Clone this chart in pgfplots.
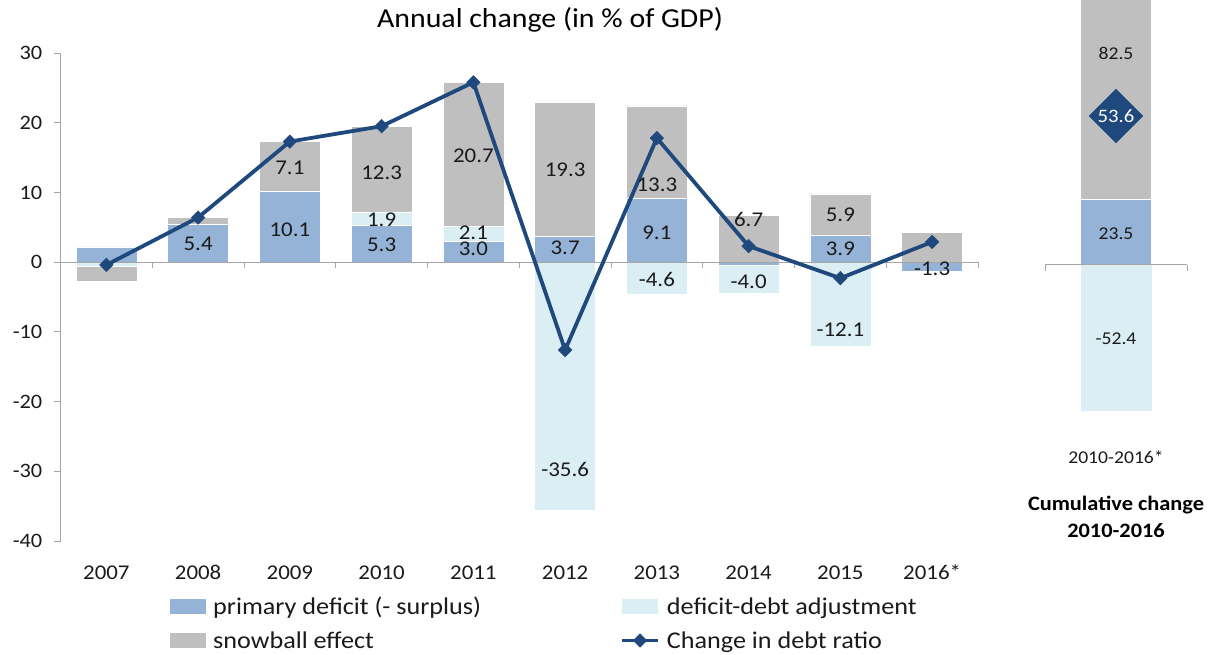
\documentclass[border=0pt]{standalone}
\usepackage{fontspec}
\setmainfont{Carlito}[FakeStretch=1.09]
\usepackage{pgfplots}
\usepackage{pgfplotstable}
\pgfplotsset{compat=1.18}
\definecolor{prim}{HTML}{95B3D7}
\definecolor{dda}{HTML}{DBEEF4}
\definecolor{snow}{HTML}{BFBFBF}
\definecolor{debt}{HTML}{1F497D}
\definecolor{axgray}{HTML}{A6A6A6}
\definecolor{txt}{HTML}{1A1A1A}

\pgfplotstableread{
x prim dda snow debt
0 2.2 -0.6 -2.1 -0.4
1 5.4 0.0 1.0 6.4
2 10.1 0.1 7.1 17.3
3 5.3 1.9 12.3 19.5
4 3.0 2.1 20.7 25.8
5 3.7 -35.6 19.3 -12.6
6 9.1 -4.6 13.3 17.8
7 -0.4 -4.0 6.7 2.3
8 3.9 -12.1 5.9 -2.3
9 -1.3 0.0 4.3 2.9
}\annual

\pgfplotstableread{
x y lab
1 2.6 5.4
2 4.6 10.1
2 13.5 7.1
3 2.5 5.3
3 6.1 1.9
3 12.8 12.3
4 1.9 3.0
4 4.2 2.1
4 15.2 20.7
5 2.0 3.7
5 13.2 19.3
5 -29.7 -35.6
6 4.2 9.1
6 11.1 13.3
6 -2.5 -4.6
7 6.1 6.7
7 -2.8 -4.0
8 1.9 3.9
8 6.8 5.9
8 -9.7 -12.1
9 -0.9 -1.3
}\annlabels

\pgfplotstableread{
x prim dda snow debt
0 23.5 -52.4 82.5 53.6
}\cumul

\pgfplotstableread{
x y lab
0 76.1 82.5
0 11.4 23.5
0 -26.7 -52.4
}\cumlabels

\pgfplotsset{
  leftgeom/.style={scale only axis, width=917.5pt, height=488pt, at={(60.5pt,113pt)}, anchor=south west, xmin=-0.5, xmax=9.5, ymin=-40, ymax=30},
  rightgeom/.style={scale only axis, width=142pt, height=431.8pt, at={(1045pt,222.2pt)}, anchor=south west, xmin=-1, xmax=1, ymin=-60, ymax=95.3},
  barleg/.style={legend image code/.code={\fill[##1, draw=none] (0pt,-7.5pt) rectangle (36pt,7.5pt);}},
  lineleg/.style={legend image code/.code={\draw[mark repeat=2,mark phase=2,##1] plot coordinates {(0pt,0pt) (18pt,0pt) (36pt,0pt)};}},
  lab/.style={only marks, mark=none, nodes near coords, point meta=explicit symbolic, nodes near coords align=center,
     every node near coord/.append style={font=#1, text=txt, anchor=center, inner sep=0pt}},
}

\begin{document}
\begin{tikzpicture}
\path[use as bounding box] (0,0) rectangle (1223pt,654pt);

% positive stacks (left)
\begin{axis}[leftgeom, hide axis, ybar stacked, bar width=61pt]
\addplot[fill=prim, draw=white, line width=0.6pt] table[x=x, y expr={max(\thisrow{prim},0)}]{\annual};
\addplot[fill=dda, draw=white, line width=0.6pt] table[x=x, y expr={max(\thisrow{dda},0)}]{\annual};
\addplot[fill=snow, draw=white, line width=0.6pt] table[x=x, y expr={max(\thisrow{snow},0)}]{\annual};
\end{axis}
% negative stacks (left)
\begin{axis}[leftgeom, hide axis, ybar stacked, bar width=61pt]
\addplot[fill=prim, draw=white, line width=0.6pt] table[x=x, y expr={min(\thisrow{prim},0)}]{\annual};
\addplot[fill=dda, draw=white, line width=0.6pt] table[x=x, y expr={min(\thisrow{dda},0)}]{\annual};
\addplot[fill=snow, draw=white, line width=0.6pt] table[x=x, y expr={min(\thisrow{snow},0)}]{\annual};
\end{axis}
% axes, line, labels, legend
\begin{axis}[leftgeom, clip=false,
  axis x line*=bottom, axis y line*=left,
  x axis line style={draw=none},
  y axis line style={axgray, line width=1pt},
  xtick={0,...,9}, xticklabels={2007,2008,2009,2010,2011,2012,2013,2014,2015,2016*},
  xtick style={draw=none},
  ytick={-40,-30,-20,-10,0,10,20,30}, yticklabels={-40,-30,-20,-10,0,10,20,30},
  ytick style={axgray, line width=1pt},
  tick align=outside, major tick length=7pt,
  xticklabel style={font=\fontsize{21}{25}\selectfont, text=txt, anchor=base, yshift=-31pt},
  yticklabel style={font=\fontsize{20.5}{24}\selectfont, text=txt, anchor=east, inner sep=0pt, xshift=-11pt},
  legend columns=2, legend cell align=left,
  legend style={at={(axis description cs:0.1193,-0.111)}, anchor=north west, draw=none, fill=none,
     inner sep=0pt, row sep=11pt, column sep=5pt, font=\fontsize{24}{28}\selectfont, text=txt},
]
\draw[axgray, line width=1pt] (axis cs:-0.5,0) -- (axis cs:9.5,0);
\pgfplotsinvokeforeach{0.5,1.5,2.5,3.5,4.5,5.5,6.5,7.5,8.5,9.5}{\draw[axgray, line width=1pt] (axis cs:#1,0) -- ++(0pt,-6pt);}
\addlegendimage{barleg, fill=prim}
\addlegendentry{\makebox[400pt][l]{primary deficit (- surplus)}}
\addlegendimage{barleg, fill=dda}
\addlegendentry{deficit-debt adjustment}
\addlegendimage{barleg, fill=snow}
\addlegendentry{\makebox[400pt][l]{snowball effect}}
\addplot[lineleg, debt, line width=3.8pt, line join=round, mark=square*, mark size=4.8pt,
   mark options={rotate=45, fill=debt, draw=debt, line width=0.5pt}] table[x=x, y=debt]{\annual};
\addlegendentry{Change in debt ratio}
\addplot[lab=\fontsize{21}{25}\selectfont, forget plot] table[x=x, y=y, meta=lab]{\annlabels};
\end{axis}

% right panel positive stack
\begin{axis}[rightgeom, hide axis, ybar stacked, bar width=71pt]
\addplot[fill=prim, draw=white, line width=0.6pt] table[x=x, y expr={max(\thisrow{prim},0)}]{\cumul};
\addplot[fill=snow, draw=white, line width=0.6pt] table[x=x, y expr={max(\thisrow{snow},0)}]{\cumul};
\end{axis}
% right panel negative bar, axis, diamond, labels
\begin{axis}[rightgeom, clip=false,
  axis x line*=bottom, axis y line=none,
  x axis line style={draw=none},
  xtick={0}, xticklabels={2010-2016*}, xtick style={draw=none},
  xticklabel style={font=\fontsize{18}{22}\selectfont, text=txt, anchor=center, yshift=-25.2pt},
  xlabel={Cumulative change\\2010-2016},
  xlabel style={font=\bfseries\fontsize{20.5}{27}\selectfont, text=black, align=center, at={(axis description cs:0.5,0)}, anchor=center, yshift=-84.7pt},
]
\addplot[ybar, bar width=71pt, bar shift=0pt, fill=dda, draw=none] table[x=x, y expr={min(\thisrow{dda},0)}]{\cumul};
\draw[axgray, line width=1pt] (axis cs:-1,0) -- (axis cs:1,0);
\draw[axgray, line width=1pt] (axis cs:-1,0) -- ++(0pt,-6pt);
\draw[axgray, line width=1pt] (axis cs:1,0) -- ++(0pt,-6pt);
\addplot[lab=\fontsize{18}{22}\selectfont] table[x=x, y=y, meta=lab]{\cumlabels};
\addplot[only marks, mark=square*, mark size=19pt, mark options={rotate=45, fill=debt, draw=debt},
  nodes near coords, point meta=explicit symbolic, nodes near coords align=center,
  every node near coord/.append style={font=\fontsize{19}{23}\selectfont, text=white, anchor=center, inner sep=0pt}]
  table[x=x, y=debt, meta=debt]{\cumul};
\end{axis}

\node[font=\fontsize{27.4}{32}\selectfont, text=black] at (550pt,634pt) {Annual change (in \% of GDP)};
\end{tikzpicture}
\end{document}
